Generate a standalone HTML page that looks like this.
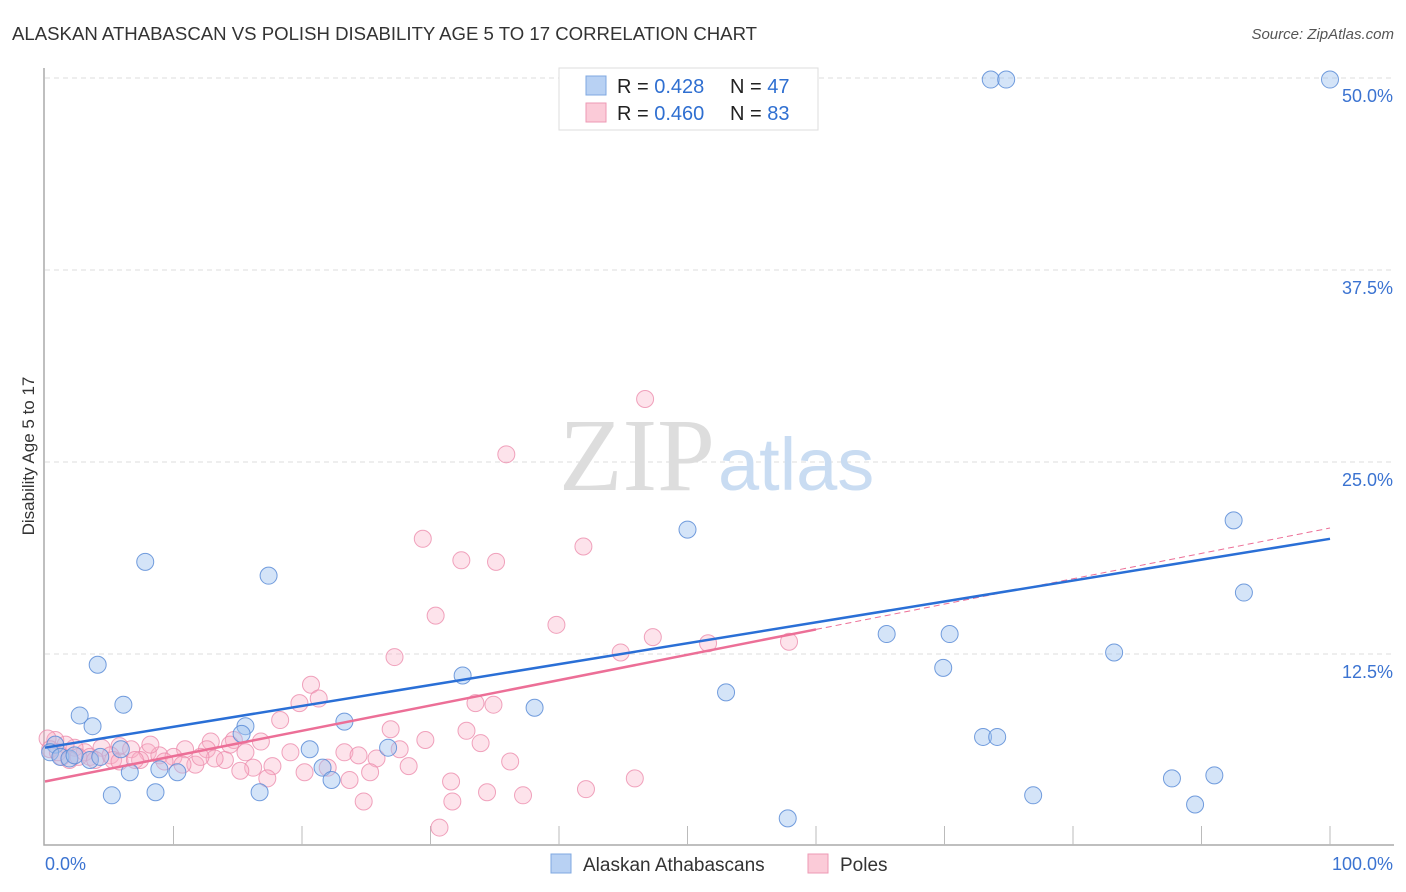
<!DOCTYPE html>
<html><head><meta charset="utf-8"><style>
body{margin:0;background:#fff;font-family:"Liberation Sans",sans-serif;}
svg{display:block}
</style></head><body>
<svg id="chart" width="1406" height="892">
<text x="12" y="40" font-size="18.6" fill="#333">ALASKAN ATHABASCAN VS POLISH DISABILITY AGE 5 TO 17 CORRELATION CHART</text>
<text x="1394" y="39" font-size="15" fill="#555" font-style="italic" text-anchor="end">Source: ZipAtlas.com</text>
<text x="34" y="456" font-size="17" fill="#333" text-anchor="middle" transform="rotate(-90 34 456)">Disability Age 5 to 17</text>
<g id="grid"></g>
<text x="715" y="490" font-size="104" font-family="Liberation Serif" fill="#ddd" text-anchor="end">ZIP</text>
<text x="718" y="490" font-size="74" fill="#c9dcf2">atlas</text>
<g id="points"></g>
<g id="trends"></g>
<g>
<rect x="559" y="68" width="259" height="62" fill="#fff" stroke="#ddd"/>
<rect x="586" y="76" width="20" height="19" fill="#b8d1f3" stroke="#7fa8e0"/>
<rect x="586" y="103" width="20" height="19" fill="#fbcbd8" stroke="#ee9ab4"/>
<text x="617" y="93" font-size="20" fill="#222">R = <tspan fill="#2f6fd1">0.428</tspan><tspan x="730">N = </tspan><tspan fill="#2f6fd1">47</tspan></text>
<text x="617" y="120" font-size="20" fill="#222">R = <tspan fill="#2f6fd1">0.460</tspan><tspan x="730">N = </tspan><tspan fill="#2f6fd1">83</tspan></text>
</g>
<g>
<rect x="551" y="854" width="20" height="19" fill="#b8d1f3" stroke="#7fa8e0"/>
<text x="583" y="871" font-size="19" fill="#333">Alaskan Athabascans</text>
<rect x="808" y="854" width="20" height="19" fill="#fbcbd8" stroke="#ee9ab4"/>
<text x="840" y="871" font-size="19" fill="#333">Poles</text>
</g>
</svg>
<script>
const yTicks=[12.5,25,37.5,50];
const yTickLabels=["12.5%","25.0%","37.5%","50.0%"];
const xTicks=[10,20,30,40,50,60,70,80,90,100];
const blueX=[73.6,74.8,100,92.5,93.3,50.0,7.8,17.4,65.5,70.4,83.2,69.9,4.1,32.5,53.0,6.1,38.1,2.7,3.7,23.3,15.6,15.3,73.0,74.1,26.7,20.6,5.9,0.8,0.4,1.2,1.9,3.5,6.6,8.9,10.3,21.6,22.3,5.2,8.6,16.7,76.9,87.7,91.0,89.5,57.8,2.3,4.3];
const blueY=[49.9,49.9,49.9,21.2,16.5,20.6,18.5,17.6,13.8,13.8,12.6,11.6,11.8,11.1,10.0,9.2,9.0,8.5,7.8,8.1,7.8,7.3,7.1,7.1,6.4,6.3,6.3,6.6,6.1,5.8,5.7,5.6,4.8,5.0,4.8,5.1,4.3,3.3,3.5,3.5,3.3,4.4,4.6,2.7,1.8,5.9,5.8];
const pinkX=[46.7,35.9,29.4,32.4,35.1,41.9,30.4,39.8,47.3,44.8,51.6,57.9,27.2,20.7,21.3,19.8,33.5,34.9,18.3,26.9,32.8,14.7,16.8,29.6,33.9,27.6,12.9,10.9,12.6,23.3,24.4,25.8,19.1,15.6,8.0,8.9,10.0,5.8,6.7,4.4,3.1,2.3,1.6,0.8,0.2,0.4,1.3,2.6,3.5,5.1,7.4,11.7,14.0,16.2,17.7,20.2,22.0,25.3,28.3,36.2,31.6,34.4,37.2,42.1,45.9,24.8,31.7,30.7,17.3,9.3,13.2,15.2,23.7,14.4,12.1,10.7,5.3,3.9,1.0,1.9,5.8,8.2,7.0];
const pinkY=[29.1,25.5,20.0,18.6,18.5,19.5,15.0,14.4,13.6,12.6,13.2,13.3,12.3,10.5,9.6,9.3,9.3,9.2,8.2,7.6,7.5,6.9,6.8,6.9,6.7,6.3,6.8,6.3,6.3,6.1,5.9,5.7,6.1,6.1,6.1,5.9,5.8,6.5,6.3,6.4,6.1,6.4,6.6,6.9,7.0,6.3,5.8,5.8,5.8,5.9,5.6,5.3,5.6,5.1,5.2,4.8,5.1,4.8,5.2,5.5,4.2,3.5,3.3,3.7,4.4,2.9,2.9,1.2,4.4,5.5,5.7,4.9,4.3,6.6,5.8,5.3,5.6,5.6,6.1,5.6,5.5,6.6,5.6];
const blueTrend=[6.4,20.0];
const pinkTrend=[4.2,20.7];
const pinkSolidEnd=60;

const NS="http://www.w3.org/2000/svg";
const X=v=>45+v*12.85, Y=v=>846-v*15.36;
function mk(tag,attrs,parent){const e=document.createElementNS(NS,tag);for(const k in attrs)e.setAttribute(k,attrs[k]);parent.appendChild(e);return e;}
const grid=document.getElementById('grid');
yTicks.forEach((t,i)=>{
  const l=mk('line',{x1:45,x2:1394,y1:Y(t),y2:Y(t),stroke:'#ddd','stroke-dasharray':'5,4'},grid);
  
  
  const tx=mk('text',{x:1393,y:Y(t)+24,'font-size':18,fill:'#3b73d1','text-anchor':'end'},grid);
  tx.textContent=yTickLabels[i];
  
  
});
const ax=mk('path',{d:'M44 68 V845 H1394',fill:'none',stroke:'#aaa','stroke-width':1.5},grid);


xTicks.forEach(t=>{
  const l=mk('line',{x1:X(t),x2:X(t),y1:826,y2:845,stroke:'#bbb'},grid);
  
  
});
let t0=mk('text',{x:45,y:870,'font-size':18,fill:'#3b73d1'},grid);t0.textContent='0.0%';


let t1=mk('text',{x:1393,y:870,'font-size':18,fill:'#3b73d1','text-anchor':'end'},grid);t1.textContent='100.0%';


const pts=document.getElementById('points');
pinkX.forEach((v,i)=>{
  const c=mk('circle',{cx:X(v),cy:Y(pinkY[i]),r:8.5,fill:'rgba(248,175,198,0.35)',stroke:'rgba(236,140,172,0.8)','stroke-width':1},pts);
  
  
});
blueX.forEach((v,i)=>{
  const c=mk('circle',{cx:X(v),cy:Y(blueY[i]),r:8.5,fill:'rgba(160,196,240,0.45)',stroke:'rgba(90,140,215,0.85)','stroke-width':1},pts);
  
  
});
const tr=document.getElementById('trends');
const pAt=x=>pinkTrend[0]+(pinkTrend[1]-pinkTrend[0])*x/100;
let pd=mk('line',{x1:X(pinkSolidEnd),y1:Y(pAt(pinkSolidEnd)),x2:X(100),y2:Y(pinkTrend[1]),stroke:'#ec6f97','stroke-width':1,'stroke-dasharray':'6,4'},tr);


let ps=mk('line',{x1:X(0),y1:Y(pinkTrend[0]),x2:X(pinkSolidEnd),y2:Y(pAt(pinkSolidEnd)),stroke:'#ec6f97','stroke-width':2.5},tr);


let bl=mk('line',{x1:X(0),y1:Y(blueTrend[0]),x2:X(100),y2:Y(blueTrend[1]),stroke:'#2a6fd6','stroke-width':2.5},tr);


</script>
</body></html>
